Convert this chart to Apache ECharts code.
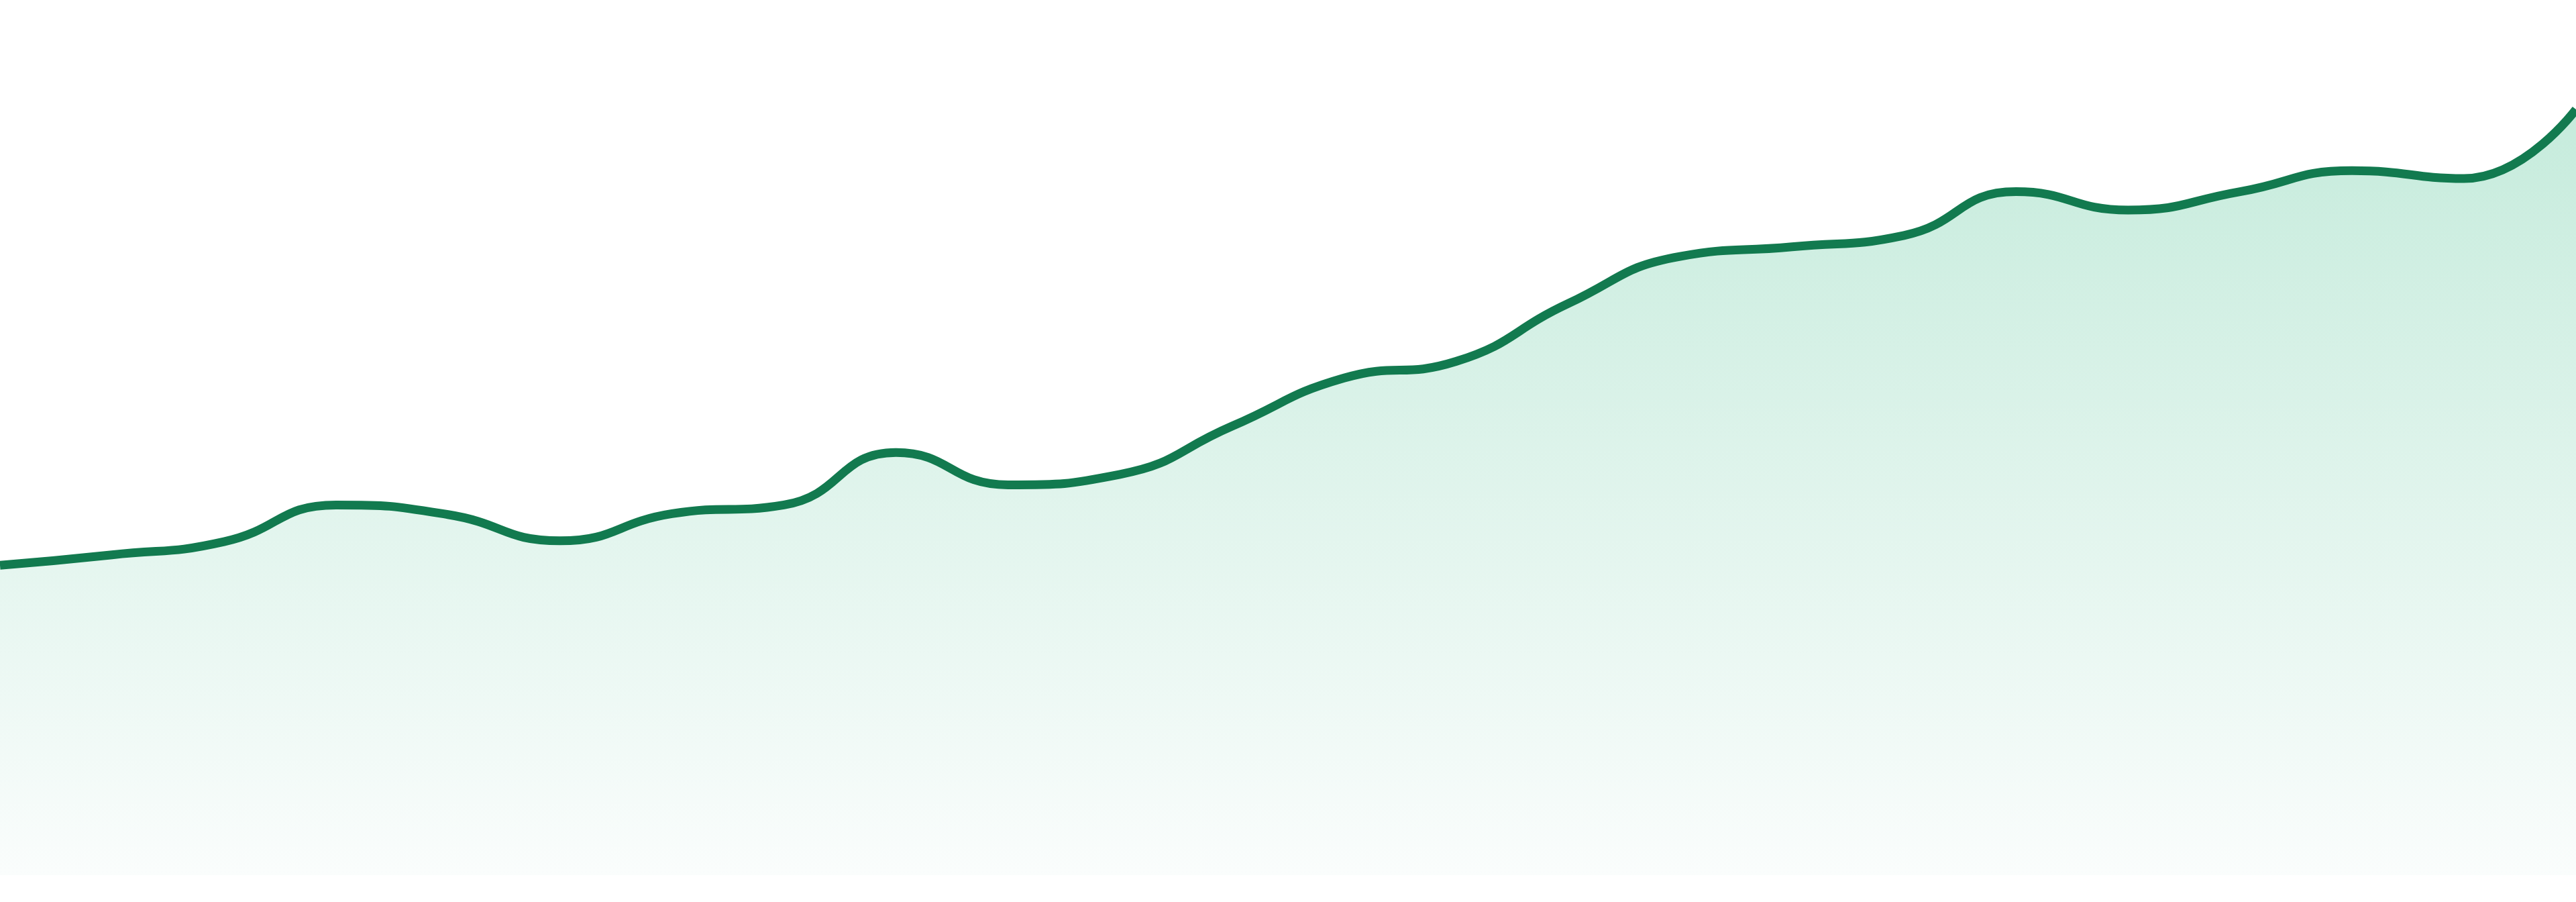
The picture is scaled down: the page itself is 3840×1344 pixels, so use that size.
<!DOCTYPE html>
<html>
<head>
<meta charset="utf-8">
<script src="https://cdn.jsdelivr.net/npm/echarts@6/dist/echarts.min.js"></script>
<style>
html,body{margin:0;padding:0;background:#ffffff;}
#chart{width:3840px;height:1344px;}
</style>
</head>
<body>
<div id="chart"></div>
<script>
const categories = ['P1','P2','P3','P4','P5','P6','P7','P8','P9','P10','P11','P12','P13','P14','P15','P16','P17','P18','P19','P20','P21','P22','P23','P24'];
const values = [35.4, 36.6, 38.1, 42.3, 41.2, 38.2, 41.3, 42.3, 48.3, 44.6, 45.8, 51.3, 56.8, 58.7, 65.3, 70.7, 71.8, 73.1, 78.1, 76.0, 78.1, 80.5, 79.6, 87.5];
const yMin = 0;
const yMax = 100;

const chart = echarts.init(document.getElementById('chart'), null, {renderer: 'canvas'});
chart.setOption({
  animation: false,
  backgroundColor: '#ffffff',
  grid: {left: 0, right: 0, top: 0, bottom: 40, containLabel: false},
  xAxis: {
    type: 'category',
    data: categories,
    boundaryGap: false,
    show: false
  },
  yAxis: {
    type: 'value',
    min: yMin,
    max: yMax,
    show: false
  },
  series: [{
    type: 'line',
    data: values,
    smooth: 0.5,
    symbol: 'none',
    lineStyle: {color: '#127a4f', width: 13},
    areaStyle: {
      color: new echarts.graphic.LinearGradient(0, 0, 0, 1, [
        {offset: 0, color: '#ade3cd'},
        {offset: 1, color: '#f8fcfb'}
      ])
    }
  }]
});
</script>
</body>
</html>
